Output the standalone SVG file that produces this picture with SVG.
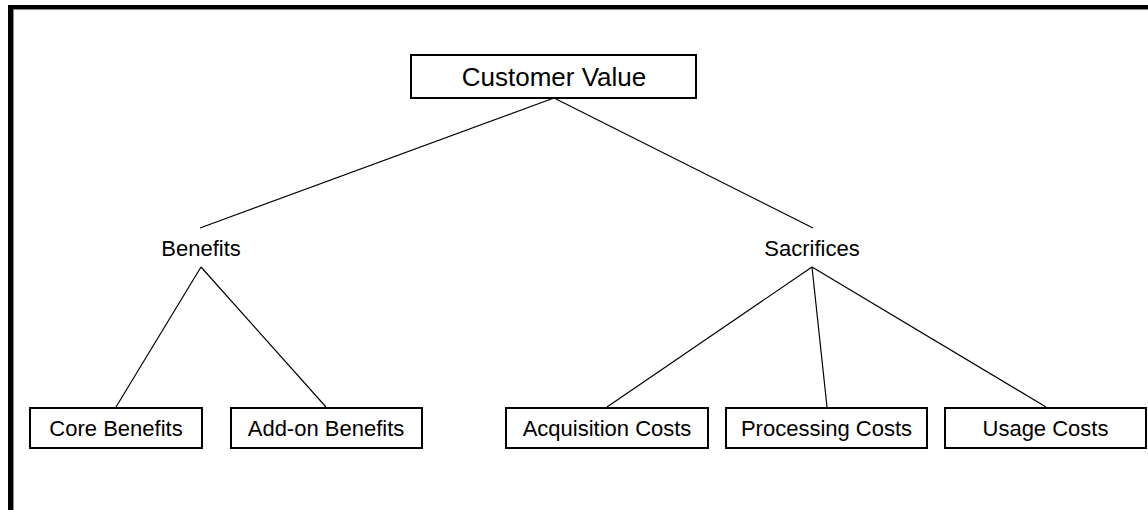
<svg xmlns="http://www.w3.org/2000/svg" width="1148" height="510" viewBox="0 0 1148 510">
  <style>
    .box { fill: #fff; stroke: #000; stroke-width: 2; }
    .lbl { font-family: "Liberation Sans", Arial, sans-serif; font-size: 22px; fill: #000; text-anchor: middle; }
    .link { stroke: #000; stroke-width: 1.2; fill: none; }
  </style>
  <rect width="1148" height="510" fill="#fff"/>
  <!-- page frame: heavy top and left rule -->
  <g id="frame">
    <rect x="8" y="5" width="1140" height="4" fill="#000"/>
    <rect x="8" y="5" width="5" height="505" fill="#000"/>
    <rect x="13" y="9" width="1135" height="1" fill="#888"/>
    <rect x="13" y="9" width="1" height="501" fill="#888"/>
  </g>
  <g id="connectors">
    <line class="link" x1="554" y1="98" x2="200" y2="228"/>
    <line class="link" x1="554" y1="98" x2="813" y2="228"/>
    <line class="link" x1="201" y1="267" x2="116" y2="407"/>
    <line class="link" x1="201" y1="267" x2="326" y2="407"/>
    <line class="link" x1="812" y1="267" x2="607" y2="407"/>
    <line class="link" x1="812" y1="267" x2="827" y2="407"/>
    <line class="link" x1="812" y1="267" x2="1046" y2="407"/>
  </g>
  <g id="customer-value">
    <rect class="box" x="411" y="55" width="285" height="43"/>
    <text class="lbl" x="554" y="86" style="font-size:26px">Customer Value</text>
  </g>
  <g id="benefits">
    <text class="lbl" x="201" y="256">Benefits</text>
  </g>
  <g id="sacrifices">
    <text class="lbl" x="812" y="256">Sacrifices</text>
  </g>
  <g id="core-benefits">
    <rect class="box" x="30" y="408" width="172" height="40"/>
    <text class="lbl" x="116" y="436">Core Benefits</text>
  </g>
  <g id="addon-benefits">
    <rect class="box" x="231" y="408" width="191" height="40"/>
    <text class="lbl" x="326" y="436">Add-on Benefits</text>
  </g>
  <g id="acquisition-costs">
    <rect class="box" x="506" y="408" width="202" height="40"/>
    <text class="lbl" x="607" y="436">Acquisition Costs</text>
  </g>
  <g id="processing-costs">
    <rect class="box" x="726" y="408" width="201" height="40"/>
    <text class="lbl" x="826.5" y="436">Processing Costs</text>
  </g>
  <g id="usage-costs">
    <rect class="box" x="945" y="408" width="201" height="40"/>
    <text class="lbl" x="1045.5" y="436">Usage Costs</text>
  </g>
</svg>
